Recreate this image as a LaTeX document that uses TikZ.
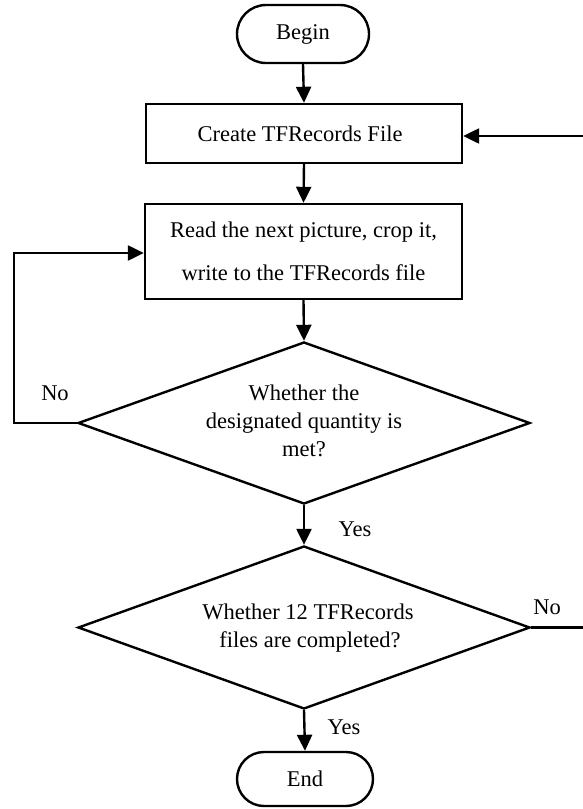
\documentclass[tikz,border=0pt]{standalone}
\usepackage{fontspec}
\setmainfont{Liberation Serif}
\usetikzlibrary{shapes.geometric,arrows.meta}
\begin{document}
\begin{tikzpicture}[x=1pt,y=-1pt,
  every node/.style={font=\fontsize{22.5}{28}\selectfont},
  arr/.style={line width=2.4pt,-{Triangle[length=16pt,width=15pt]}},
  term/.style={draw,line width=2.4pt,inner sep=0pt},
  procbox/.style={draw,line width=2.4pt,inner sep=0pt,align=center},
  decide/.style={draw,diamond,line width=2.4pt,inner sep=0pt,align=center,shape aspect=2.8},
  lbl/.style={inner sep=0pt}]
\useasboundingbox (0,0) rectangle (582,809);
\node[term,minimum width=132pt,minimum height=58pt,rounded corners=29pt] (begin) at (303,34) {\raisebox{-2pt}{Begin}};
\node[procbox,minimum width=316pt,minimum height=59pt] (create) at (304,133.5) {Create TFRecords File\hspace*{8pt}};
\node[procbox,minimum width=317pt,minimum height=95pt] (read) at (303.5,251.5)
  {Read the next picture, crop it,\\[15pt]write to the TFRecords file};
\node[decide,minimum width=452pt,minimum height=162pt] (d1) at (304,423)
  {\raisebox{-4pt}{\begin{tabular}{@{}c@{}}Whether the\\designated quantity is\\met?\end{tabular}}};
\node[decide,minimum width=452pt,minimum height=163pt] (d2) at (304,627.5)
  {\raisebox{-3pt}{\begin{tabular}{@{}c@{}}\hspace*{8pt}Whether 12 TFRecords\\\hspace*{12pt}files are completed?\end{tabular}}};
\node[term,minimum width=136pt,minimum height=54pt,rounded corners=27pt] (end) at (305,779) {End};
\coordinate (lx) at (14,0);
\coordinate (rx) at (586,0);
\draw[arr] (begin.south) -- (create.north);
\draw[arr] (create.south) -- (read.north);
\draw[arr] (read.south) -- (d1.north);
\draw[arr] (d1.south) -- (d2.north);
\draw[arr] (d2.south) -- (end.north);
\draw[arr] (d1.west) -- (d1.west -| lx) -- ([yshift=-1.5pt]read.west -| lx) -- ([yshift=-1.5pt]read.west);
\draw[arr] (d2.east) -- (d2.east -| rx) -- ([yshift=-2.5pt]create.east -| rx) -- ([yshift=-2.5pt]create.east);
\node[lbl] (no1) at (55,393) {No};
\node[lbl] (yes1) at (355,529) {Yes};
\node[lbl] (no2) at (547,607) {No};
\node[lbl] (yes2) at (344,727) {Yes};
\end{tikzpicture}
\end{document}
